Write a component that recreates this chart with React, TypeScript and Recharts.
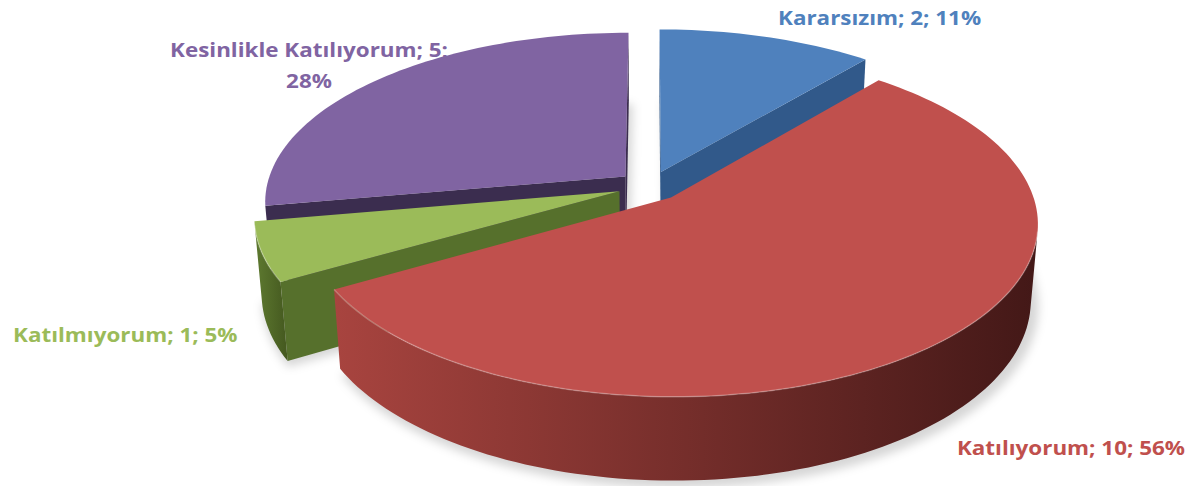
import { PieChart, Pie } from 'recharts';

const NAMES = ['Kararsızım', 'Katılıyorum', 'Katılmıyorum', 'Kesinlikle Katılıyorum'];
const VALUES = [2, 10, 1, 5];
const PERCENT_LABELS = ['11%', '56%', '5%', '28%'];

const TOP_COLORS = ['#4F81BD', '#C0504D', '#9BBB59', '#8064A2'];
const CUT_COLORS = ['#31598A', '#8E3633', '#56702C', '#3B2D4F'];
const RIM_STOPS = [
  ['#3A6497', '#2A4A72'],
  ['#A8443F', '#431817'],
  ['#5E7A30', '#44581F'],
  ['#4C3A66', '#362849'],
];
const LABEL_COLORS = ['#4F81BD', '#C0504D', '#9BBB59', '#8064A2'];

// where Excel had put the data labels
const LABEL_LAYOUT = [
  { x: 778, y: 25, anchor: 'start', wrap: false },
  { x: 1185, y: 455, anchor: 'end', wrap: false },
  { x: 13, y: 342, anchor: 'start', wrap: false },
  { x: 309, y: 57, anchor: 'middle', wrap: true },
];
// the source picture is stretched sideways a little
const TEXT_STRETCH = 1.15;

const data = NAMES.map((name, i) => ({ name, value: VALUES[i] }));

// 3d look: tilt, camera distance, thickness and explode, in pie radius units
const TILT = (27.7 * Math.PI) / 180;
const DIST = 6.16;
const THICK = 0.24;
const EXPLODE = 0.09;

const rad = (d: number) => (d * Math.PI) / 180;

const TOTAL = VALUES.reduce((s, v) => s + v, 0);
const MID_ANGLES = VALUES.map((v, i) => {
  const before = VALUES.slice(0, i).reduce((s, x) => s + x, 0);
  return 90 - (360 * (before + v / 2)) / TOTAL;
});
// back slices first so the front ones cover them
const SIDE_ORDER = VALUES.map((_, i) => i).sort(
  (a, b) => -Math.sin(rad(MID_ANGLES[a])) + Math.sin(rad(MID_ANGLES[b]))
);

type Pt = [number, number];

const toPath = (pts: Pt[]) =>
  pts.map((p, i) => `${i ? 'L' : 'M'}${p[0].toFixed(2)},${p[1].toFixed(2)}`).join('') + 'Z';
const toLine = (pts: Pt[]) =>
  pts.map((p, i) => `${i ? 'L' : 'M'}${p[0].toFixed(2)},${p[1].toFixed(2)}`).join('');

function faceVisible(psi: number, px: number, pz: number) {
  const camZ = DIST * Math.cos(TILT);
  return Math.cos(rad(psi)) * -px - Math.sin(rad(psi)) * (camZ - pz) > 0;
}

function sliceGeom(p: any) {
  const { cx, cy, outerRadius, startAngle, endAngle, midAngle } = p;
  const sn = Math.sin(TILT);
  const cs = Math.cos(TILT);
  const ox = EXPLODE * Math.cos(rad(midAngle));
  const oz = -EXPLODE * Math.sin(rad(midAngle));
  const pt = (a: number, r: number, y: number): Pt => {
    const X = ox + r * Math.cos(rad(a));
    const Z = oz - r * Math.sin(rad(a));
    const up = y * cs - Z * sn;
    const depth = y * sn + Z * cs;
    const s = DIST / (DIST - depth);
    return [cx + outerRadius * X * s, cy - outerRadius * up * s];
  };
  const steps = Math.max(8, Math.ceil(Math.abs(endAngle - startAngle) / 1.5));
  const angles: number[] = [];
  for (let i = 0; i <= steps; i++) angles.push(startAngle + ((endAngle - startAngle) * i) / steps);

  // runs of the outer rim that face the camera
  const runs: number[][] = [];
  let run: number[] = [];
  for (let i = 0; i < angles.length - 1; i++) {
    const am = (angles[i] + angles[i + 1]) / 2;
    const vis = faceVisible(am, ox + Math.cos(rad(am)), oz - Math.sin(rad(am)));
    if (vis) {
      if (!run.length) run.push(angles[i]);
      run.push(angles[i + 1]);
    } else if (run.length) {
      runs.push(run);
      run = [];
    }
  }
  if (run.length) runs.push(run);
  return { pt, ox, oz, angles, runs };
}

const shadowLabel = (props: any) => {
  const { index } = props;
  const g = sliceGeom(props);
  const base = [g.pt(0, 0, -THICK), ...g.angles.map((a) => g.pt(a, 1.01, -THICK))];
  return (
    <g key={`shadow-${index}`}>
      <defs>
        <filter id={`soft-${index}`} x="-20%" y="-20%" width="140%" height="140%">
          <feGaussianBlur stdDeviation="5" />
        </filter>
      </defs>
      <path
        d={toPath(base)}
        transform="translate(4,5)"
        fill="#000"
        fillOpacity={0.16}
        filter={`url(#soft-${index})`}
      />
    </g>
  );
};

const sideLabel = (only: number) => (props: any) => {
  const { index, startAngle, endAngle } = props;
  if (index !== only) return null;
  const g = sliceGeom(props);
  const sign = endAngle < startAngle ? -1 : 1;
  const edges: [number, number][] = [
    [startAngle, startAngle - 90 * sign],
    [endAngle, endAngle + 90 * sign],
  ];
  const gid = `rim-${index}`;
  return (
    <g key={`side-${index}`}>
      <defs>
        <linearGradient id={gid} x1="0" y1="0" x2="1" y2="0">
          <stop offset="0%" stopColor={RIM_STOPS[index][0]} />
          <stop offset="100%" stopColor={RIM_STOPS[index][1]} />
        </linearGradient>
      </defs>
      {edges.map(([a, psi], k) => {
        const px = g.ox + 0.5 * Math.cos(rad(a));
        const pz = g.oz - 0.5 * Math.sin(rad(a));
        if (!faceVisible(psi, px, pz)) return null;
        const quad = [g.pt(a, 0, 0), g.pt(a, 1, 0), g.pt(a, 1, -THICK), g.pt(a, 0, -THICK)];
        return <path key={`cut${k}`} d={toPath(quad)} fill={CUT_COLORS[index]} />;
      })}
      {g.runs.map((r, k) => {
        const top = r.map((a) => g.pt(a, 1, 0));
        const bot = r.map((a) => g.pt(a, 1, -THICK)).reverse();
        return <path key={`rim${k}`} d={toPath([...top, ...bot])} fill={`url(#${gid})`} />;
      })}
    </g>
  );
};

const topLabel = (props: any) => {
  const { index } = props;
  const g = sliceGeom(props);
  const face = [g.pt(0, 0, 0), ...g.angles.map((a) => g.pt(a, 1, 0))];
  return (
    <g key={`top-${index}`}>
      <path d={toPath(face)} fill={TOP_COLORS[index]} />
      {g.runs.map((r, k) => (
        <path
          key={k}
          d={toLine(r.map((a) => g.pt(a, 1, 0)))}
          fill="none"
          stroke="#ffffff"
          strokeOpacity={0.25}
          strokeWidth={1.5}
        />
      ))}
    </g>
  );
};

const textLabel = (props: any) => {
  const { index, name, value } = props;
  const lay = LABEL_LAYOUT[index];
  const style = {
    fontFamily: "'Open Sans', 'Liberation Sans', sans-serif",
    fontWeight: 700,
    fontSize: 19.5,
  };
  const lines = lay.wrap
    ? [`${name}; ${value};`, PERCENT_LABELS[index]]
    : [`${name}; ${value}; ${PERCENT_LABELS[index]}`];
  return (
    <g key={`t-${index}`} transform={`translate(${lay.x},${lay.y}) scale(${TEXT_STRETCH},1)`}>
      <text x={0} y={0} fill={LABEL_COLORS[index]} textAnchor={lay.anchor as any} style={style}>
        {lines.map((l, k) => (
          <tspan key={k} x={0} y={k * 31}>
            {l}
          </tspan>
        ))}
      </text>
    </g>
  );
};

const CX = 650;
const CY = 186;
const RADIUS = 359;

export default function App() {
  const common = {
    data,
    dataKey: 'value',
    nameKey: 'name',
    cx: CX,
    cy: CY,
    innerRadius: 0,
    outerRadius: RADIUS,
    startAngle: 90,
    endAngle: -270,
    fill: 'none',
    stroke: 'none',
    labelLine: false,
    isAnimationActive: false,
  };
  return (
    <div style={{ position: 'absolute', left: 0, top: 0, width: 1192, height: 486, background: '#fff' }}>
      <PieChart width={1192} height={486} margin={{ top: 0, right: 0, bottom: 0, left: 0 }}>
        <Pie key="shadows" {...common} label={shadowLabel} />
        {SIDE_ORDER.map((i) => (
          <Pie key={`sides-${i}`} {...common} label={sideLabel(i)} />
        ))}
        <Pie key="tops" {...common} label={topLabel} />
        <Pie key="texts" {...common} label={textLabel} />
      </PieChart>
    </div>
  );
}
